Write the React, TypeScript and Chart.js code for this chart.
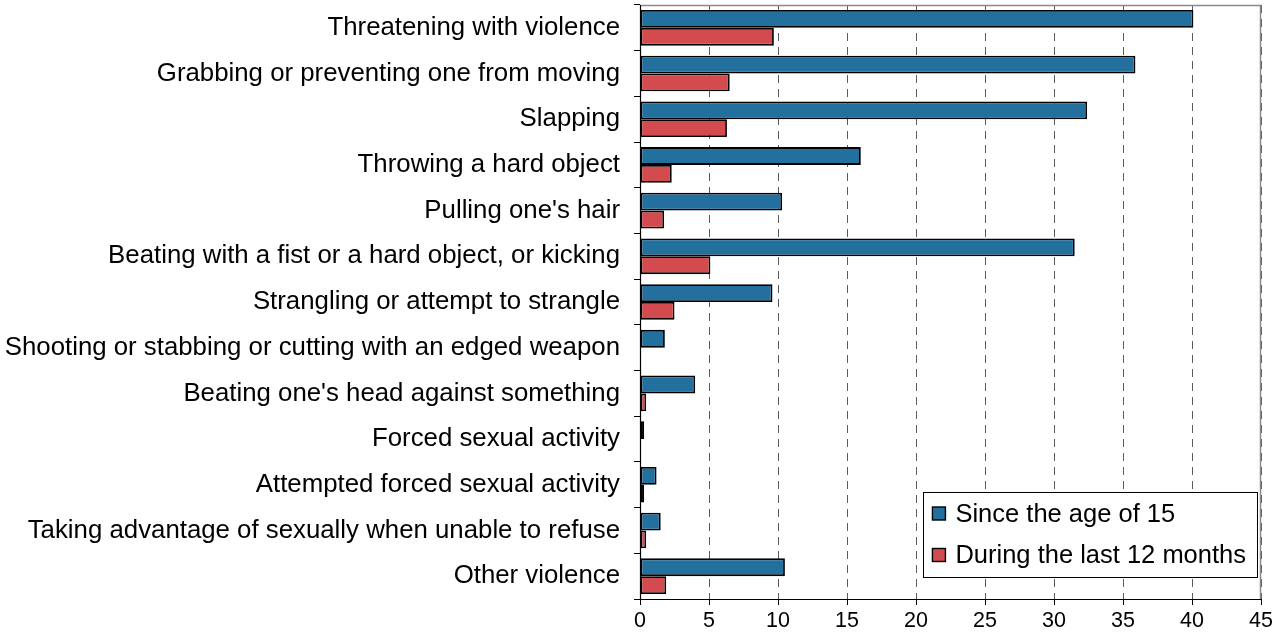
import React, { useEffect, useRef } from "react";
import { Chart, registerables } from "chart.js";

Chart.register(...registerables);

const categories = [
  "Threatening with violence",
  "Grabbing or preventing one from moving",
  "Slapping",
  "Throwing a hard object",
  "Pulling one's hair",
  "Beating with a fist or a hard object, or kicking",
  "Strangling or attempt to strangle",
  "Shooting or stabbing or cutting with an edged weapon",
  "Beating one's head against something",
  "Forced sexual activity",
  "Attempted forced sexual activity",
  "Taking advantage of sexually when unable to refuse",
  "Other violence",
];

const sinceAge15 = [40.1, 35.9, 32.4, 16.0, 10.3, 31.5, 9.6, 1.8, 4.0, 0.3, 1.2, 1.5, 10.5];
const last12Months = [9.7, 6.5, 6.3, 2.3, 1.75, 5.1, 2.5, null, 0.45, null, 0.3, 0.45, 1.9];

const seriesNames = ["Since the age of 15", "During the last 12 months"];
const seriesColors = ["#23709f", "#d44b4f"];

const xMin = 0;
const xMax = 45;
const xStep = 5;

const FONT = '"Liberation Sans", Arial, Helvetica, sans-serif';

const frameAndLegend = {
  id: "frameAndLegend",
  afterDraw(chart: any) {
    const ctx = chart.ctx;
    const ca = chart.chartArea;
    ctx.save();
    // gray top and right frame
    ctx.strokeStyle = "#8a8a8a";
    ctx.lineWidth = 1.5;
    ctx.beginPath();
    ctx.moveTo(Math.round(ca.left) + 0.5, Math.round(ca.top) + 0.5);
    ctx.lineTo(Math.round(ca.right) - 0.5, Math.round(ca.top) + 0.5);
    ctx.lineTo(Math.round(ca.right) - 0.5, Math.round(ca.bottom) + 0.5);
    ctx.stroke();
    // black left and bottom axis lines
    ctx.strokeStyle = "#000";
    ctx.lineWidth = 1.2;
    ctx.beginPath();
    ctx.moveTo(Math.round(ca.left) + 0.5, Math.round(ca.top));
    ctx.lineTo(Math.round(ca.left) + 0.5, Math.round(ca.bottom) + 0.5);
    ctx.lineTo(Math.round(ca.right), Math.round(ca.bottom) + 0.5);
    ctx.stroke();

    // legend
    ctx.font = `25.5px ${FONT}`;
    let textW = 0;
    seriesNames.forEach((n) => {
      textW = Math.max(textW, ctx.measureText(n).width);
    });
    const padX = 9;
    const marker = 13;
    const gap = 10;
    const boxW = padX + marker + gap + textW + padX + 2;
    const right = ca.right - 4;
    const bottom = ca.bottom - 22;
    const top = bottom - 85;
    const left = right - boxW;
    ctx.fillStyle = "#fff";
    ctx.fillRect(left, top, boxW, bottom - top);
    ctx.strokeStyle = "#000";
    ctx.lineWidth = 1;
    ctx.strokeRect(Math.round(left) + 0.5, Math.round(top) + 0.5, Math.round(boxW), Math.round(bottom - top));
    const rows = [top + 21.5, top + 63];
    seriesNames.forEach((n, i) => {
      const cy = rows[i];
      const mx = left + padX;
      ctx.fillStyle = seriesColors[i];
      ctx.fillRect(mx, cy - marker / 2, marker, marker);
      ctx.strokeStyle = "#000";
      ctx.lineWidth = 1.4;
      ctx.strokeRect(mx, cy - marker / 2, marker, marker);
      ctx.fillStyle = "#000";
      ctx.textAlign = "left";
      ctx.textBaseline = "middle";
      ctx.fillText(n, mx + marker + gap, cy + 1);
    });
    ctx.restore();
  },
};

const zeroPadding = (scale: any) => {
  scale.paddingTop = 0;
  scale.paddingBottom = 0;
  scale.paddingLeft = 0;
  scale.paddingRight = 0;
};

export default function App() {
  const canvasRef = useRef<HTMLCanvasElement | null>(null);

  useEffect(() => {
    if (!canvasRef.current) return;
    const chart = new Chart(canvasRef.current, {
      type: "bar",
      data: {
        labels: categories,
        datasets: [
          {
            label: seriesNames[0],
            data: sinceAge15,
            backgroundColor: seriesColors[0],
            borderColor: "#000",
            borderWidth: 1.8,
            borderSkipped: false,
            categoryPercentage: 0.78,
            barPercentage: 1,
          },
          {
            label: seriesNames[1],
            data: last12Months as any,
            backgroundColor: seriesColors[1],
            borderColor: "#000",
            borderWidth: 1.8,
            borderSkipped: false,
            categoryPercentage: 0.78,
            barPercentage: 1,
          },
        ],
      },
      options: {
        indexAxis: "y",
        animation: false,
        responsive: true,
        maintainAspectRatio: false,
        layout: { padding: { top: 5, right: 11, bottom: 0, left: 0 } },
        plugins: {
          legend: { display: false },
          tooltip: { enabled: false },
        },
        scales: {
          x: {
            type: "linear",
            min: xMin,
            max: xMax,
            afterFit: (scale: any) => {
              scale.height = 33;
              zeroPadding(scale);
            },
            ticks: {
              stepSize: xStep,
              color: "#000",
              padding: 3,
              font: { family: FONT, size: 21.5 },
            },
            grid: {
              color: "#5a5a5a",
              lineWidth: 1,
              drawTicks: true,
              tickLength: 6,
              tickColor: "#000",
            },
            border: { display: true, color: "#000", width: 1, dash: [8, 6] },
          },
          y: {
            type: "category",
            afterFit: (scale: any) => {
              scale.width = 640;
              zeroPadding(scale);
            },
            ticks: {
              color: "#000",
              padding: 14,
              autoSkip: false,
              font: { family: FONT, size: 25.8 },
            },
            grid: {
              drawOnChartArea: false,
              drawTicks: true,
              tickLength: 6,
              color: "#000",
              tickColor: "#000",
              offset: true,
            },
            border: { display: true, color: "#000", width: 1 },
          },
        },
      },
      plugins: [frameAndLegend],
    });
    return () => chart.destroy();
  }, []);

  return (
    <div style={{ position: "absolute", left: 0, top: 0, width: 1272, height: 632, background: "#fff" }}>
      <canvas ref={canvasRef} />
    </div>
  );
}
